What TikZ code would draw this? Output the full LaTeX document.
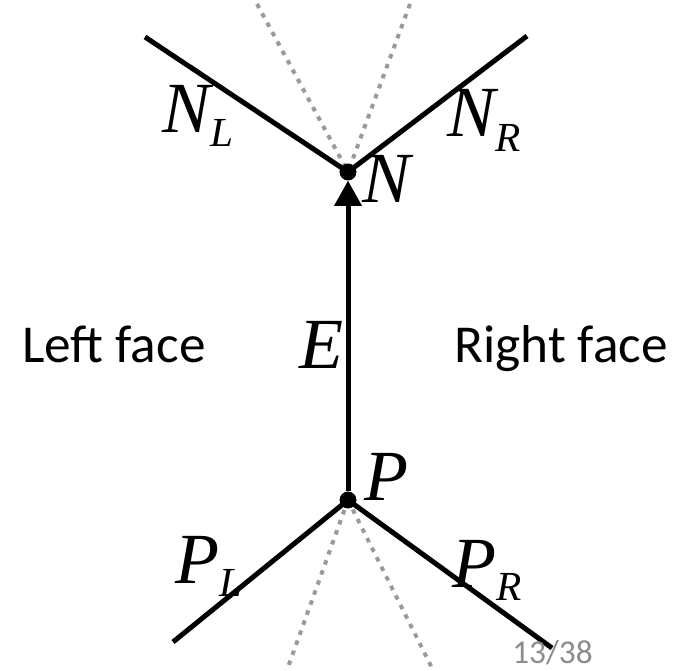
\documentclass[tikz,border=0pt]{standalone}
\usepackage{fontspec}
\setmainfont{Liberation Serif}
\newfontfamily\cali{Carlito}
\usetikzlibrary{arrows.meta}
\definecolor{guidegray}{HTML}{9A9A9A}
\definecolor{pagegray}{HTML}{8C8C8C}
\newcommand{\sublbl}[3]{{\fontsize{54}{54}\selectfont\itshape #1}\raisebox{#3}{\fontsize{31}{31}\selectfont\itshape #2}}
\tikzset{
  edgeline/.style={line width=3.75pt},
  guide/.style={guidegray, line width=3pt, dash pattern=on 3.4pt off 4.6pt},
  vtx/.style={circle, fill=black, inner sep=0pt, minimum size=12.5pt},
  lbl/.style={anchor=base west, inner sep=0pt},
  bigit/.style={font=\fontsize{54}{54}\selectfont\itshape},
}
\begin{document}
\begin{tikzpicture}[x=0.75pt, y=-0.75pt]
  \useasboundingbox (0,0) rectangle (677,670);
  % vertices
  \node[vtx] (N) at (348,172) {};
  \node[vtx] (P) at (348,500) {};
  \coordinate (nl) at (145,37);
  \coordinate (nr) at (527,36);
  \coordinate (pl) at (173,642);
  \coordinate (pr) at (552,648);
  \coordinate (gnl) at (257,4);
  \coordinate (gnr) at (410,4);
  \coordinate (gpl) at (287,670);
  \coordinate (gpr) at (433,670);
  % guides
  \draw[guide] (gnl) -- (N.center);
  \draw[guide] (gnr) -- (N.center);
  \draw[guide] (P.center) -- (gpl);
  \draw[guide] (P.center) -- (gpr);
  % edges
  \draw[edgeline] (nl) -- (N.center) -- (nr);
  \draw[edgeline] (pl) -- (P.center) -- (pr);
  \draw[edgeline, -{Triangle[width=20pt,length=19pt]}] (P) -- (N);
  \node[vtx] at (N) {};
  \node[vtx] at (P) {};
  % labels
  \node[lbl] (lnl) at (162,133) {\sublbl{N}{L}{-10.5pt}};
  \node[lbl] (lnr) at (447,137) {\sublbl{N}{R}{-11pt}};
  \node[lbl] (lpl) at (175,583) {\sublbl{P}{L}{-10pt}};
  \node[lbl] (lpr) at (452,587) {\sublbl{P}{R}{-10pt}};
  \node[lbl, bigit] (ln) at (362,203) {N};
  \node[lbl, bigit] (lp) at (364,500) {P};
  \node[lbl, bigit] (le) at (299,368) {E};
  \node[lbl] (left) at (22,362) {\cali\fontsize{40}{40}\selectfont Left face};
  \node[lbl] (right) at (454,362) {\cali\fontsize{40}{40}\selectfont Right face};
  \node[lbl, pagegray] (page) at (512,663) {\cali\fontsize{25}{25}\selectfont 13/38};
\end{tikzpicture}
\end{document}
